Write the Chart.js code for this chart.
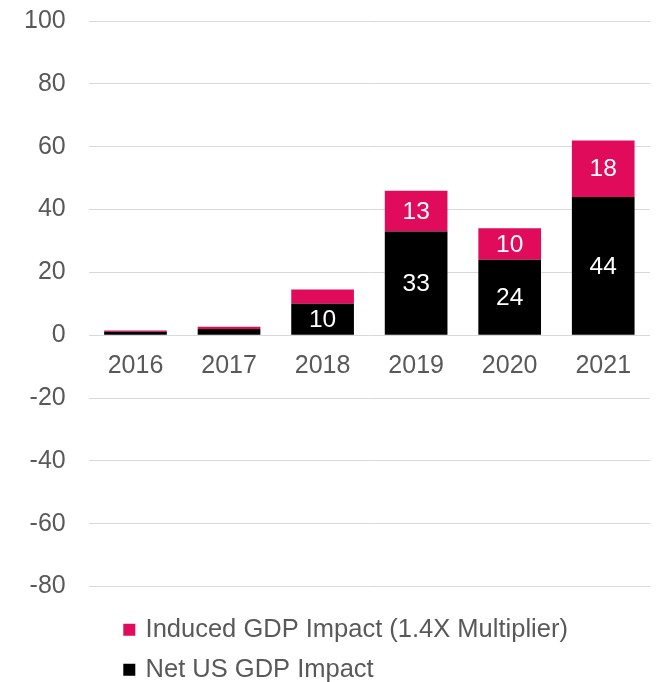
<!DOCTYPE html>
<html>
<head>
<meta charset="utf-8">
<script src="https://cdn.jsdelivr.net/npm/chart.js@4/dist/chart.umd.min.js"></script>
<style>
  html, body { margin: 0; padding: 0; background: #ffffff; overflow: hidden; }
  #frame { width: 656px; height: 682px; position: relative; overflow: hidden; }
  #wrap { width: 656px; height: 705.5px; position: absolute; left: 0; top: -17.5px; }
</style>
</head>
<body>
<div id="frame"><div id="wrap"><canvas id="c"></canvas></div></div>
<script>
// Yearly GDP impact, stacked: net impact plus the induced portion on top
const years = ['2016', '2017', '2018', '2019', '2020', '2021'];
const netImpact = [1.1, 2.0, 10, 33, 24, 44];
const inducedImpact = [0.4, 0.7, 4.5, 13, 10, 18];
const seriesNames = ['Net US GDP Impact', 'Induced GDP Impact (1.4X Multiplier)'];
const seriesColors = ['#000000', '#E10B5C'];
const yTicks = { min: -80, max: 100, step: 20 };

const FONT = 'Liberation Sans, Arial, sans-serif';
const GREY = '#595959';

// Writes each segment's value in white in the middle of the segment
const segmentLabels = {
  id: 'segmentLabels',
  afterDatasetsDraw(chart) {
    const ctx = chart.ctx;
    ctx.save();
    ctx.fillStyle = '#ffffff';
    ctx.font = '24.5px ' + FONT;
    ctx.textAlign = 'center';
    ctx.textBaseline = 'middle';
    chart.data.datasets.forEach((ds, di) => {
      const meta = chart.getDatasetMeta(di);
      meta.data.forEach((bar, i) => {
        const v = ds.data[i];
        if (v < 5) return;
        ctx.fillText(String(Math.round(v)), bar.x, (bar.y + bar.base) / 2 + 1);
      });
    });
    ctx.restore();
  }
};

// Places the legend block under the plot, left-aligned with the first bar
const legendPlacement = {
  id: 'legendPlacement',
  afterLayout(chart) {
    const lg = chart.legend;
    const h = lg.height;
    lg.left = 111.3;
    lg.top = 619.5;
    lg.bottom = lg.top + h;
  }
};

new Chart(document.getElementById('c'), {
  type: 'bar',
  data: {
    labels: years,
    datasets: [
      { label: seriesNames[0], data: netImpact, backgroundColor: seriesColors[0] },
      { label: seriesNames[1], data: inducedImpact, backgroundColor: seriesColors[1] }
    ]
  },
  options: {
    responsive: true,
    maintainAspectRatio: false,
    animation: false,
    layout: { padding: { top: 0, right: 6, left: 1, bottom: 12 } },
    datasets: { bar: { barPercentage: 0.67, categoryPercentage: 1.0 } },
    scales: {
      x: {
        stacked: true,
        position: { y: 0 },
        grid: { display: false },
        border: { display: false },
        ticks: { color: GREY, font: { family: FONT, size: 25 }, padding: 7.5 }
      },
      y: {
        stacked: true,
        min: yTicks.min,
        max: yTicks.max,
        ticks: { stepSize: yTicks.step, color: GREY, font: { family: FONT, size: 25 }, padding: 23 },
        grid: { color: '#d9d9d9', lineWidth: 1, drawTicks: false },
        border: { display: false }
      }
    },
    plugins: {
      tooltip: { enabled: false },
      legend: {
        position: 'bottom',
        align: 'start',
        reverse: true,
        labels: {
          color: GREY,
          font: { family: FONT, size: 25.5 },
          boxWidth: 7,
          boxHeight: 7,
          padding: 14.5,
          // small square swatches: a 7px box with a 5px outline of the same colour
          generateLabels(chart) {
            const items = Chart.defaults.plugins.legend.labels.generateLabels(chart);
            items.forEach(it => { it.strokeStyle = it.fillStyle; it.lineWidth = 5; });
            return items;
          }
        }
      }
    }
  },
  plugins: [segmentLabels, legendPlacement]
});
</script>
</body>
</html>
